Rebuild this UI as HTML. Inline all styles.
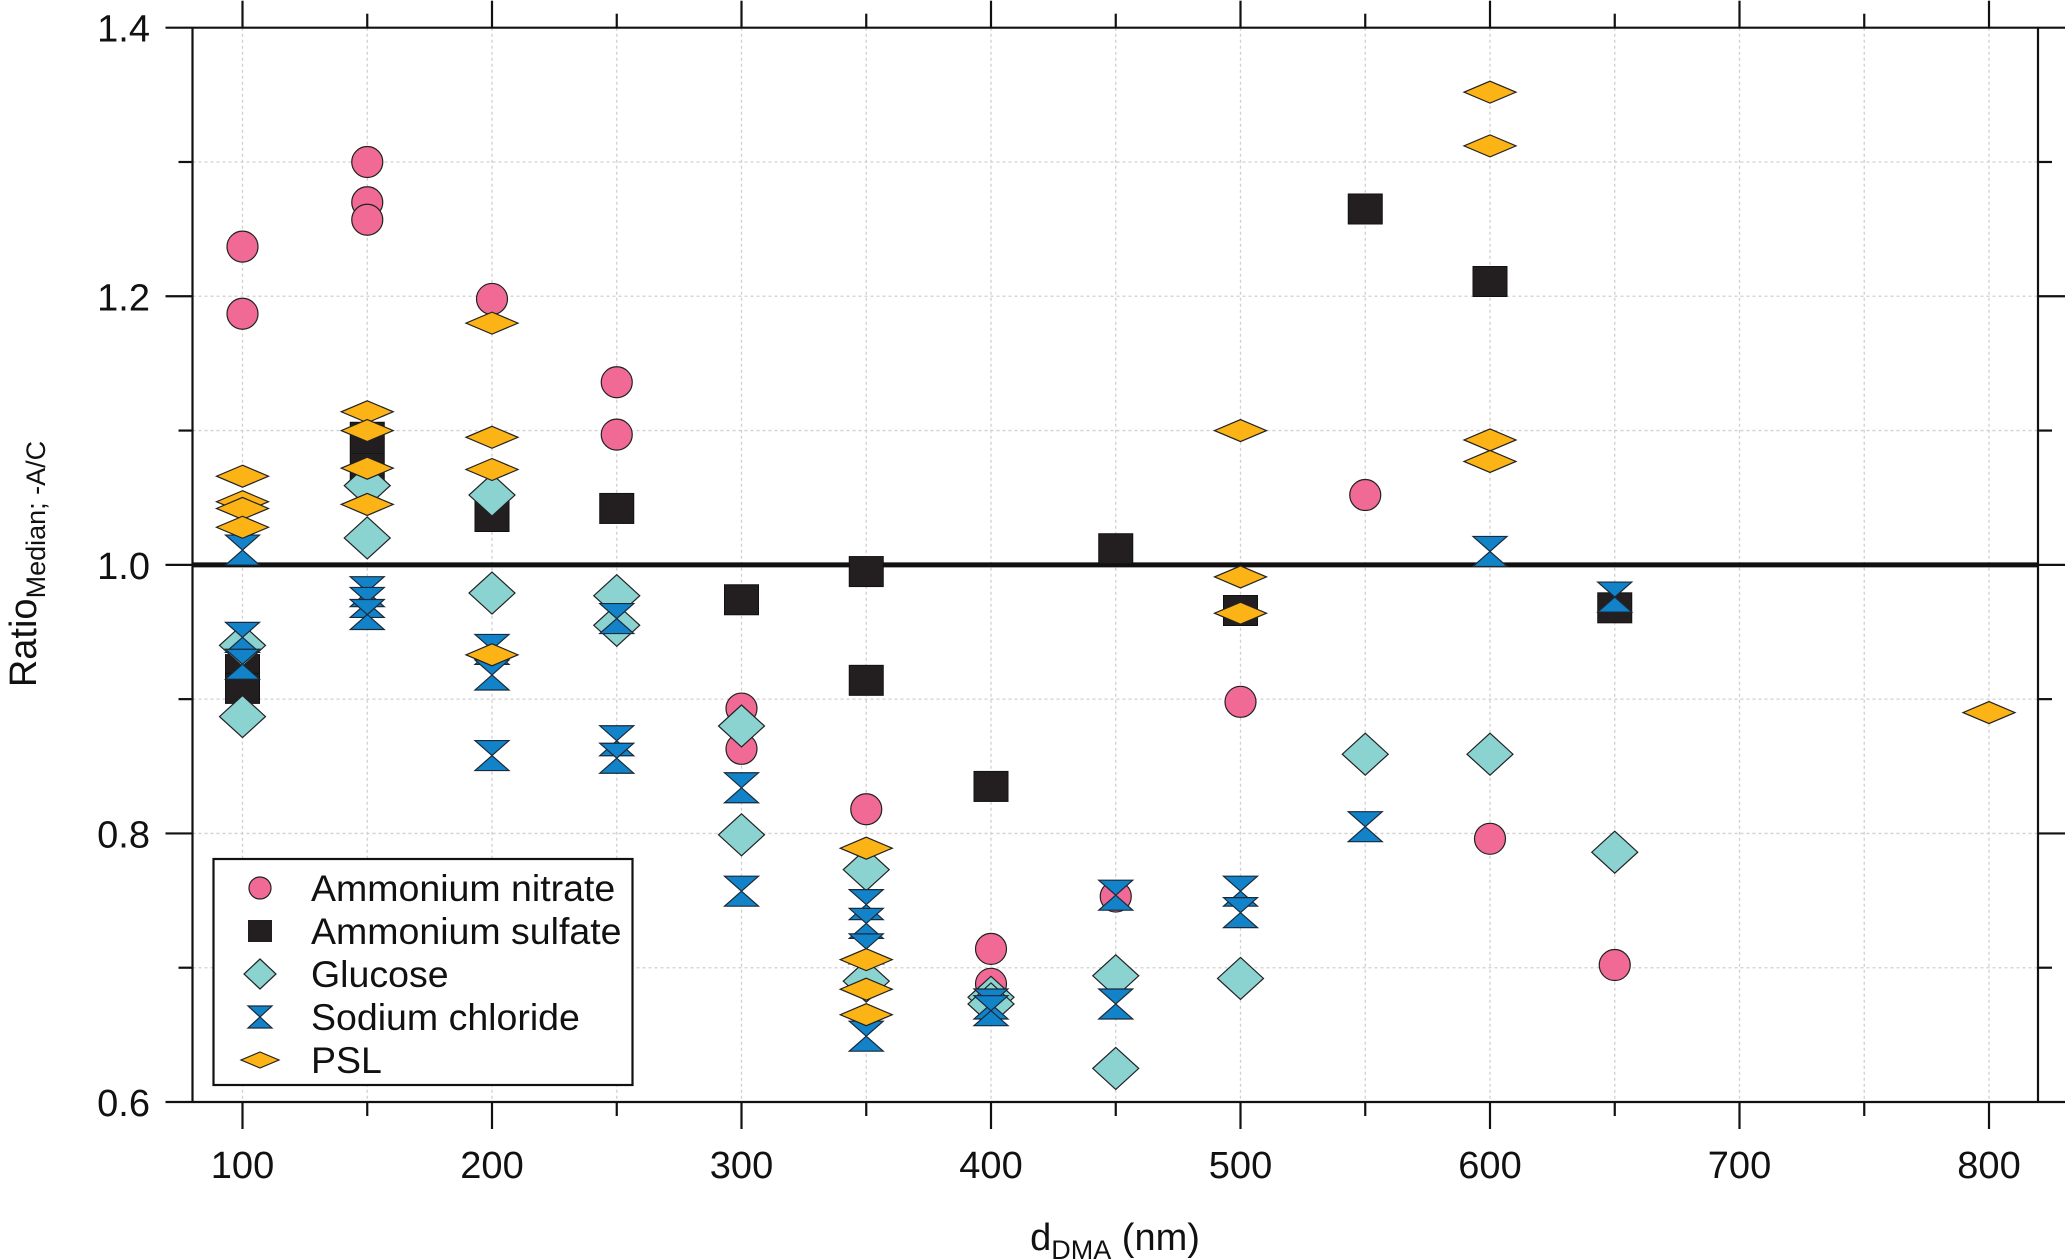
<!DOCTYPE html>
<html><head><meta charset="utf-8"><style>
html,body{margin:0;padding:0;background:#fff;}
svg{display:block;font-family:"Liberation Sans",Arial,sans-serif;}
</style></head><body>
<svg id="chart" width="2067" height="1260" viewBox="0 0 2067 1260" xmlns="http://www.w3.org/2000/svg"></svg>
<script>
const xTicks=[100,200,300,400,500,600,700,800];
const yTickLabels=["0.6","0.8","1.0","1.2","1.4"];
const nitrateX=[100,100,150,150,150,200,250,250,300,300,350,400,400,450,500,550,600,650];
const nitrateY=[1.237,1.187,1.30,1.270,1.257,1.198,1.136,1.097,0.893,0.863,0.818,0.714,0.688,0.753,0.898,1.052,0.796,0.702];
const sulfateX=[100,100,150,150,200,250,300,350,350,400,450,500,550,600,650];
const sulfateY=[0.922,0.908,1.095,1.072,1.036,1.042,0.974,0.995,0.914,0.835,1.012,0.966,1.265,1.211,0.968];
const glucoseX=[100,100,150,150,200,200,250,250,300,300,350,350,400,400,450,450,500,550,600,650];
const glucoseY=[0.940,0.887,1.059,1.020,1.052,0.979,0.977,0.955,0.880,0.799,0.773,0.690,0.678,0.673,0.694,0.625,0.692,0.859,0.859,0.786];
const naclX=[100,100,100,150,150,150,200,200,200,250,250,250,300,300,350,350,350,350,400,400,450,450,500,500,550,600,650];
const naclY=[1.011,0.946,0.926,0.980,0.972,0.963,0.937,0.918,0.858,0.960,0.869,0.856,0.834,0.757,0.747,0.733,0.714,0.649,0.673,0.668,0.754,0.673,0.757,0.741,0.805,1.010,0.976];
const pslX=[100,100,100,100,150,150,150,150,200,200,200,200,350,350,350,350,500,500,500,600,600,600,600,800];
const pslY=[1.066,1.047,1.042,1.028,1.114,1.100,1.072,1.045,1.180,1.095,1.071,0.933,0.789,0.706,0.684,0.665,1.100,0.991,0.964,1.352,1.312,1.093,1.077,0.890];

const L=192.5,R=2038,T=27.7,B=1102;
const X=v=>242.5+(v-100)*(1989-242.5)/700;
const Y=v=>B-(v-0.6)*(B-T)/0.8;
const svg=document.getElementById('chart');
const NS='http://www.w3.org/2000/svg';
function mk(tag,attrs,parent){const e=document.createElementNS(NS,tag);for(const k in attrs)e.setAttribute(k,attrs[k]);(parent||svg).appendChild(e);return e;}

const grid=mk('g',{});


for(let v=100;v<=800;v+=50){mk('line',{x1:X(v),x2:X(v),y1:T,y2:B,stroke:'#d0d0d0','stroke-width':1.3,'stroke-dasharray':'3,3'},grid);}
for(let i=1;i<8;i++){const v=0.6+i*0.1;mk('line',{x1:L,x2:R,y1:Y(v),y2:Y(v),stroke:'#d0d0d0','stroke-width':1.3,'stroke-dasharray':'3,3'},grid);}

const ref=mk('line',{x1:L,x2:R,y1:Y(1.0),y2:Y(1.0),stroke:'#111','stroke-width':5});



const ax=mk('g',{stroke:'#111','stroke-width':2.2});


mk('line',{x1:L,x2:L,y1:T,y2:B},ax);
mk('line',{x1:R,x2:R,y1:T,y2:B},ax);
mk('line',{x1:L,x2:R,y1:T,y2:T},ax);
mk('line',{x1:L,x2:R,y1:B,y2:B},ax);
for(let i=0;i<=8;i++){const v=0.6+i*0.1;const maj=i%2==0;const y=Y(v);
 mk('line',{x1:L-(maj?27:14),x2:L,y1:y,y2:y},ax);
 mk('line',{x1:R,x2:R+(maj?27:14),y1:y,y2:y},ax);}
for(let v=100;v<=800;v+=50){const maj=v%100==0;const x=X(v);
 mk('line',{x1:x,x2:x,y1:B,y2:B+(maj?27:14)},ax);
 mk('line',{x1:x,x2:x,y1:T-(maj?27:14),y2:T},ax);}

xTicks.forEach(v=>{const t=mk('text',{x:X(v),y:1178,'font-size':38,'text-anchor':'middle',fill:'#111'});t.textContent=v;
 
 });
yTickLabels.forEach(s=>{const t=mk('text',{x:150,y:Y(parseFloat(s))+14,'font-size':38,'text-anchor':'end',fill:'#111'});t.textContent=s;
 
 });

const xt=mk('text',{x:1115,y:1250,'font-size':38,'text-anchor':'middle',fill:'#111'});
xt.innerHTML='d<tspan font-size="27" dy="9">DMA</tspan><tspan dy="-9"> (nm)</tspan>';


const yt=mk('text',{x:0,y:0,'font-size':38,'text-anchor':'middle',fill:'#111',transform:'translate(36,564) rotate(-90)'});
yt.innerHTML='Ratio<tspan font-size="27" dy="9">Median; -A/C</tspan>';



const draw={
 circle:(g,x,y)=>mk('circle',{cx:x,cy:y,r:15.5,fill:'#f06a95',stroke:'#222','stroke-width':1.2},g),
 square:(g,x,y)=>mk('rect',{x:x-17,y:y-15,width:34,height:30,fill:'#231f20',stroke:'#111','stroke-width':1},g),
 diamond:(g,x,y)=>mk('polygon',{points:`${x},${y-21} ${x+23},${y} ${x},${y+21} ${x-23},${y}`,fill:'#8bd3d0',stroke:'#222','stroke-width':1.2},g),
 hour:(g,x,y)=>mk('polygon',{points:`${x-17},${y-15} ${x+17},${y-15} ${x-17},${y+15} ${x+17},${y+15}`,fill:'#1283c8',stroke:'#1a2a3a','stroke-width':1.2},g),
 psl:(g,x,y)=>mk('polygon',{points:`${x},${y-11} ${x+26},${y} ${x},${y+11} ${x-26},${y}`,fill:'#fbb316',stroke:'#222','stroke-width':1.2},g)
};
function series(name,xs,ys,shape){const g=mk('g',{});
 
 
 xs.forEach((xv,i)=>{const m=draw[shape](g,X(xv),Y(ys[i]));
  
  });}
series('ammonium-nitrate-series',nitrateX,nitrateY,'circle');
series('ammonium-sulfate-series',sulfateX,sulfateY,'square');
series('glucose-series',glucoseX,glucoseY,'diamond');
series('sodium-chloride-series',naclX,naclY,'hour');
series('psl-series',pslX,pslY,'psl');

const lg=mk('g',{});


mk('rect',{x:213.5,y:859,width:419,height:226,fill:'#fff',stroke:'#111','stroke-width':2.2},lg);
const names=['Ammonium nitrate','Ammonium sulfate','Glucose','Sodium chloride','PSL'];
const shapes=['circle','square','diamond','hour','psl'];
names.forEach((n,i)=>{const y=888+i*43;
 const e=mk('g',{},lg);
 
 
 const sc=shapes[i];
 if(sc==='circle')mk('circle',{cx:260,cy:y,r:11,fill:'#f06a95',stroke:'#222','stroke-width':1.2},e);
 else if(sc==='square')mk('rect',{x:248,y:y-11,width:24,height:22,fill:'#231f20'},e);
 else if(sc==='diamond')mk('polygon',{points:`260,${y-15} 276,${y} 260,${y+15} 244,${y}`,fill:'#8bd3d0',stroke:'#222','stroke-width':1.2},e);
 else if(sc==='hour')mk('polygon',{points:`248,${y-11} 272,${y-11} 248,${y+11} 272,${y+11}`,fill:'#1283c8',stroke:'#1a2a3a','stroke-width':1.2},e);
 else mk('polygon',{points:`260,${y-8} 279,${y} 260,${y+8} 241,${y}`,fill:'#fbb316',stroke:'#222','stroke-width':1.2},e);
 const t=mk('text',{x:311,y:y+13,'font-size':37.5,fill:'#111'},e);t.textContent=n;});
</script>
</body></html>
